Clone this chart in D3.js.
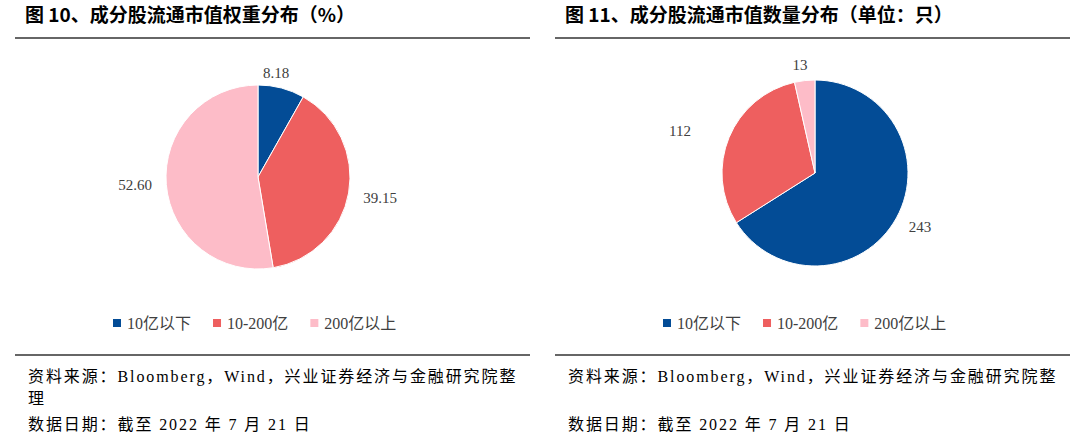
<!DOCTYPE html>
<html><head><meta charset="utf-8">
<script src="https://cdn.jsdelivr.net/npm/d3@7"></script>
<style>body{margin:0;background:#fff}svg text{font-family:"Times New Roman","Liberation Serif","Noto Sans CJK SC",serif}</style>
</head><body><svg id="c" width="1080" height="442"></svg>
<script>
const categories=["10亿以下","10-200亿","200亿以上"];
const weightValues=[8.18,39.15,52.60];
const countValues=[243,112,13];
const weightLabels=["8.18","39.15","52.60"];
const countLabels=["243","112","13"];
const colors=["#034C96","#EE5F5F","#FDBCC8"];
const titles=["图 10、成分股流通市值权重分布（%）","图 11、成分股流通市值数量分布（单位：只）"];
const svg=d3.select("#c");
const cjk='"Noto Sans CJK SC",sans-serif';
const panels=[
 {x0:15,x1:530,cx:258,cy:177,r:92,vals:weightValues,labs:weightLabels,lpos:[[276,78],[380,203],[135,190]],legX:113},
 {x0:555,x1:1070,cx:815,cy:173,r:93,vals:countValues,labs:countLabels,lpos:[[920,232],[680,136],[800,70]],legX:663}
];
const color=d3.scaleOrdinal().domain(categories).range(colors);
panels.forEach((p,pi)=>{
 const g=svg.append("g");
 g.append("text").attr("x",p.x0+10).attr("y",22).attr("font-size",19).attr("font-weight","bold")
  .style("font-family",cjk).text(titles[pi]);
 g.append("line").attr("x1",p.x0).attr("x2",p.x1).attr("y1",38).attr("y2",38).attr("stroke","#333").attr("stroke-width",1.3);
 g.append("line").attr("x1",p.x0).attr("x2",p.x1).attr("y1",355).attr("y2",355).attr("stroke","#333").attr("stroke-width",1.3);
 const pie=d3.pie().sort(null).value(d=>d)(p.vals);
 const arc=d3.arc().innerRadius(0).outerRadius(p.r);
 g.append("g").attr("transform",`translate(${p.cx},${p.cy})`).selectAll("path").data(pie).join("path")
  .attr("d",arc).attr("fill",(d,i)=>color(categories[i])).attr("stroke","#fff").attr("stroke-width",1);
 p.labs.forEach((l,i)=>g.append("text").attr("x",p.lpos[i][0]).attr("y",p.lpos[i][1]).attr("text-anchor","middle")
  .attr("font-size",15).attr("fill","#404040").text(l));
 let lx=p.legX;
 categories.forEach((c,i)=>{
  g.append("rect").attr("x",lx).attr("y",319).attr("width",8).attr("height",8).attr("fill",colors[i]);
  const t=g.append("text").attr("x",lx+14).attr("y",329).attr("font-size",16).attr("fill","#404040").text(c);
  lx+=t.node().getComputedTextLength()+36;
 });
 const ls=1.9;
 g.append("text").attr("x",p.x0+13).attr("y",382).attr("font-size",16).attr("letter-spacing",ls).text("资料来源：Bloomberg，Wind，兴业证券经济与金融研究院整");
 if(pi==0) g.append("text").attr("x",p.x0+13).attr("y",404).attr("font-size",16).text("理");
 g.append("text").attr("x",p.x0+13).attr("y",430).attr("font-size",16).attr("letter-spacing",ls).text("数据日期：截至 2022 年 7 月 21 日");
});
</script></body></html>
